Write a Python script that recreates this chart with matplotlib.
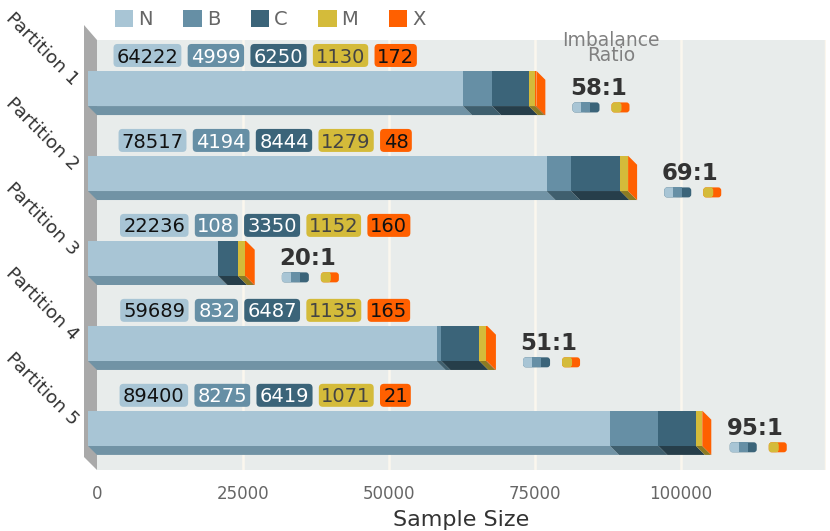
import matplotlib
matplotlib.use("Agg")
import matplotlib.pyplot as plt
import matplotlib.transforms as mtransforms
from matplotlib.patches import Polygon, FancyBboxPatch, Patch
from matplotlib.textpath import TextPath
from matplotlib.font_manager import FontProperties

# ---------------- data ----------------
partitions = ["Partition 1", "Partition 2", "Partition 3", "Partition 4", "Partition 5"]
classes = ["N", "B", "C", "M", "X"]
N_vals = [64222, 78517, 22236, 59689, 89400]
B_vals = [4999, 4194, 108, 832, 8275]
C_vals = [6250, 8444, 3350, 6487, 6419]
M_vals = [1130, 1279, 1152, 1135, 1071]
X_vals = [172, 48, 160, 165, 21]
ratios = [58, 69, 20, 51, 95]
xticks = [0, 25000, 50000, 75000, 100000]

series = [N_vals, B_vals, C_vals, M_vals, X_vals]
colors = ["#a8c5d5", "#668fa5", "#3b6479", "#d4bb3a", "#ff6000"]
bottom_colors = ["#7193a5", "#3f5f6e", "#263e4a", "#8c7b23", "#a84000"]
text_colors = ["#111111", "#ffffff", "#ffffff", "#444444", "#111111"]

W, H = 830, 531
fig = plt.figure(figsize=(W / 100, H / 100), dpi=100)
ax = fig.add_axes([97 / W, (H - 470) / H, 729 / W, 430 / H])
XMAX = 729 / 146 * 25000
ax.set_xlim(0, XMAX)
ax.set_ylim(4.385, -0.676)
ax.set_facecolor("#e8eceb")
for s in ax.spines.values():
    s.set_visible(False)
ax.set_yticks([])
ax.set_xticks(xticks)
ax.set_xticklabels([str(t) for t in xticks])
ax.tick_params(axis="x", length=0, pad=11, labelsize=12, labelcolor="#666666")
ax.set_xlabel("Sample Size", fontsize=16, color="#333333", labelpad=5)

for t in xticks[1:]:
    ax.axvline(t, color="#fbf7ee", lw=1.8, zorder=0.5)
ax.axvline(XMAX, color="#fbf7ee", lw=2.5, zorder=0.5)

ident = mtransforms.IdentityTransform()
inv = ax.transData.inverted()
x0p, y0p = ax.transData.transform((0, 0))
dxd = inv.transform((x0p + 9, y0p))[0]
dyd = inv.transform((x0p, y0p + 9))[1]  # negative => up
bar_h = 0.415

# left wall
bb = ax.bbox
wall = Polygon([(bb.x0 - 13, bb.y1 + 15), (bb.x0, bb.y1), (bb.x0, bb.y0), (bb.x0 - 13, bb.y0 + 13)],
               closed=True, transform=ident, fc="#a9a9a9", ec="none", zorder=1, clip_on=False)
ax.add_patch(wall)

fs_val = 14
em_val = fs_val * 100 / 72
fprop = FontProperties(family="DejaVu Sans", size=fs_val)

for i in range(len(partitions)):
    vals = [s[i] for s in series]
    total = sum(vals)
    yc = i + dyd
    left = 0
    for k, v in enumerate(vals):
        # bottom face
        ax.add_patch(Polygon([(left - dxd, yc + bar_h / 2), (left + v - dxd, yc + bar_h / 2),
                              (left + v, i + bar_h / 2), (left, i + bar_h / 2)],
                             closed=True, fc=bottom_colors[k], ec="none", zorder=2, clip_on=False))
        left += v
    # right face
    ax.add_patch(Polygon([(total - dxd, yc - bar_h / 2), (total, i - bar_h / 2),
                          (total, i + bar_h / 2), (total - dxd, yc + bar_h / 2)],
                         closed=True, fc=colors[-1], ec="none", zorder=2.5, clip_on=False))
    left = 0
    for k, v in enumerate(vals):
        ax.barh(yc, v, left=left - dxd, height=bar_h, color=colors[k], zorder=3, clip_on=False)
        left += v

    # value label boxes (widths from glyph ink extents)
    cx_disp = ax.transData.transform((28800, 0))[0]
    cy_disp = ax.transData.transform((0, i - 0.494))[1]
    exts = []
    for v in vals:
        e = TextPath((0, 0), str(v), size=em_val, prop=fprop).get_extents()
        exts.append(e)
    padx = 4.65
    gap = 6.3
    widths = [e.width + 2 * padx for e in exts]
    tot_w = sum(widths) + gap * (len(widths) - 1)
    xs = cx_disp - tot_w / 2
    for k, v in enumerate(vals):
        bw = widths[k]
        ax.add_patch(FancyBboxPatch((xs, cy_disp - 11.5), bw, 23, boxstyle="round,pad=0,rounding_size=4",
                                    transform=ident, fc=colors[k], ec="none", zorder=5, clip_on=False))
        ax.text(xs + padx - exts[k].x0, cy_disp - 0.365 * em_val, str(v), fontsize=fs_val,
                color=text_colors[k], ha="left", va="baseline", transform=ident, zorder=6,
                clip_on=False)
        xs += bw + gap

    # partition label
    fy = ax.transData.transform((0, yc))[1]
    ax.text(bb.x0 - 21.8, fy + 6.3, partitions[i], rotation=-45, rotation_mode="anchor",
            ha="right", va="center", fontsize=13.3, color="#333333", transform=ident, clip_on=False)

    # ratio label
    rx = min(total + 9100, 112800)
    rxd = ax.transData.transform((rx, 0))[0]
    em_r = 16.5 * 100 / 72
    ax.text(rxd, fy + 2 - 0.365 * em_r, f"{ratios[i]}:1", fontsize=16.5, fontweight="bold",
            color="#333333", ha="center", va="baseline", transform=ident, zorder=6, clip_on=False)
    iy = fy + 2 - 21
    # mini icons: N/B/C group
    ax.add_patch(FancyBboxPatch((rxd - 26, iy - 5), 27, 10, boxstyle="round,pad=0,rounding_size=3",
                                transform=ident, fc=colors[2], ec="none", zorder=6, clip_on=False))
    ax.add_patch(FancyBboxPatch((rxd - 26, iy - 5), 14, 10, boxstyle="round,pad=0,rounding_size=3",
                                transform=ident, fc=colors[0], ec="none", zorder=6.1, clip_on=False))
    ax.add_patch(FancyBboxPatch((rxd - 17, iy - 5), 9, 10, boxstyle="square,pad=0",
                                transform=ident, fc=colors[1], ec="none", zorder=6.2, clip_on=False))
    # M/X group
    ax.add_patch(FancyBboxPatch((rxd + 13, iy - 5), 18, 10, boxstyle="round,pad=0,rounding_size=3",
                                transform=ident, fc=colors[4], ec="none", zorder=6, clip_on=False))
    ax.add_patch(FancyBboxPatch((rxd + 13, iy - 5), 10, 10, boxstyle="round,pad=0,rounding_size=3",
                                transform=ident, fc=colors[3], ec="none", zorder=6.1, clip_on=False))
    ax.add_patch(FancyBboxPatch((rxd + 20, iy - 5), 2, 10, boxstyle="square,pad=0",
                                transform=ident, fc=colors[3], ec="none", zorder=6.2, clip_on=False))

# Imbalance ratio header
hx = ax.transData.transform((88000, 0))[0]
ax.text(hx, H - 30.8, "Imbalance\nRatio", fontsize=13.5, color="#808080", ha="center", va="top",
        multialignment="center", linespacing=0.74, transform=ident, clip_on=False, zorder=6)

# legend
handles = [Patch(facecolor=c, edgecolor="none") for c in colors]
fig.legend(handles, classes, loc="center left", bbox_to_anchor=(115 / W, 1 - 19.5 / H), ncol=5,
           frameon=False, fontsize=14, handlelength=0.95, handleheight=0.95, handletextpad=0.26,
           columnspacing=1.56, borderpad=0, borderaxespad=0, labelcolor="#666666")

fig.savefig("out.png", dpi=100)
